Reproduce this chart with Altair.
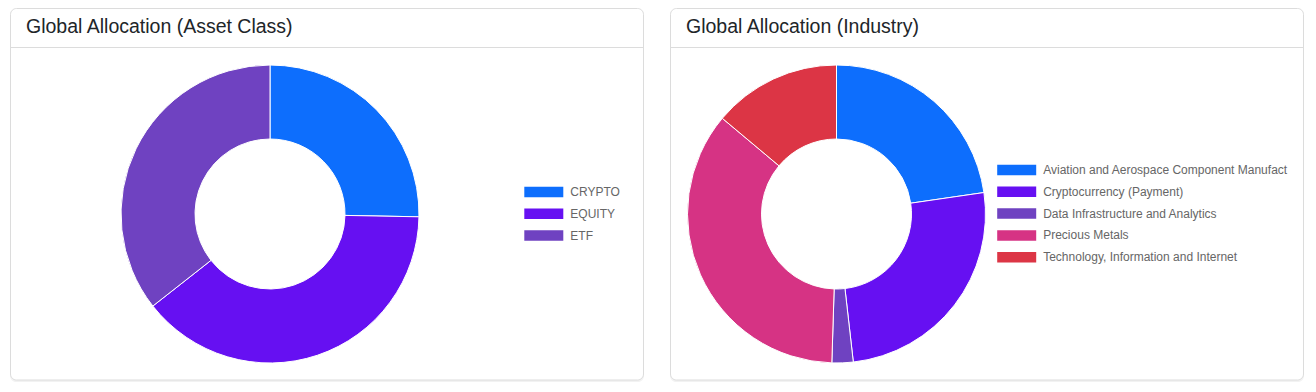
import altair as alt
import pandas as pd

# ---- data ----
asset_classes = ["CRYPTO", "EQUITY", "ETF"]
asset_values = [25.3, 39.1, 35.6]

industries = [
    "Aviation and Aerospace Component Manufacturing",
    "Cryptocurrency (Payment)",
    "Data Infrastructure and Analytics",
    "Precious Metals",
    "Technology, Information and Internet",
]
industry_values = [22.7, 25.5, 2.3, 35.6, 13.9]

palette = ["#0d6efd", "#6610f2", "#6f42c1", "#d63384", "#dc3545"]

titles = ["Global Allocation (Asset Class)", "Global Allocation (Industry)"]

BOX = "M-1,-0.27L1,-0.27L1,0.27L-1,0.27Z"
PANEL_W = 650
PANEL_H = 378


def panel(title, cats, vals, card_x, cx, legend_x, legend_range):
    df = pd.DataFrame({"cat": cats, "value": vals, "idx": list(range(len(cats)))})
    one = pd.DataFrame({"t": [title]})
    color = alt.Color(
        "cat:N",
        scale=alt.Scale(domain=cats, range=palette[: len(cats)]),
        legend=None,
    )

    shadow = alt.Chart(one).mark_rect(
        cornerRadius=6, fill="rgba(0,0,0,0.05)"
    ).encode(
        x=alt.value(card_x), x2=alt.value(card_x + 634),
        y=alt.value(1), y2=alt.value(374),
    )
    card = alt.Chart(one).mark_rect(
        cornerRadius=6, fill="white", stroke="#dcdcdc", strokeWidth=1
    ).encode(
        x=alt.value(card_x + 0.5), x2=alt.value(card_x + 634 - 0.5),
        y=alt.value(0.5), y2=alt.value(372),
    )
    header_line = alt.Chart(one).mark_rule(color="#dcdcdc", strokeWidth=1).encode(
        x=alt.value(card_x + 1), x2=alt.value(card_x + 633), y=alt.value(39.5)
    )
    title_txt = alt.Chart(one).mark_text(
        align="left", baseline="alphabetic", fontSize=19.5,
        font="Liberation Sans", color="#212529",
    ).encode(x=alt.value(card_x + 16), y=alt.value(25), text="t:N")

    arcs = alt.Chart(df).mark_arc(
        radius=149, innerRadius=75, stroke="white", strokeWidth=1
    ).encode(
        theta=alt.Theta("value:Q", stack=True),
        color=color,
        order=alt.Order("idx:Q"),
        x=alt.value(cx), y=alt.value(206),
    )

    ypos = alt.Y(
        "cat:N",
        scale=alt.Scale(type="point", domain=cats, range=legend_range, padding=0),
        axis=None,
    )
    boxes = alt.Chart(df).mark_point(
        shape=BOX, size=1521, filled=True, opacity=1
    ).encode(x=alt.value(legend_x), y=ypos, color=color)
    labels = alt.Chart(df).mark_text(
        align="left", baseline="middle", fontSize=12, font="Liberation Sans",
        color="#666666", limit=248, ellipsis="\u200b",
    ).encode(x=alt.value(legend_x + 26.5), y=ypos, text="cat:N")

    return alt.layer(
        shadow, card, header_line, title_txt, arcs, boxes, labels
    ).properties(width=PANEL_W, height=PANEL_H)


left = panel(titles[0], asset_classes, asset_values, 2, 262, 535.8, [184, 227.6])
right = panel(titles[1], industries, industry_values, 12, 178.5, 358.7, [162, 249.2])

chart = alt.hconcat(left, right, spacing=0).properties(
    padding={"left": 0, "top": 0, "right": 0, "bottom": 0}
).configure_view(stroke=None).resolve_scale(color="independent", y="independent")

chart.save("out.html", embed_options={"renderer": "svg", "actions": False})
